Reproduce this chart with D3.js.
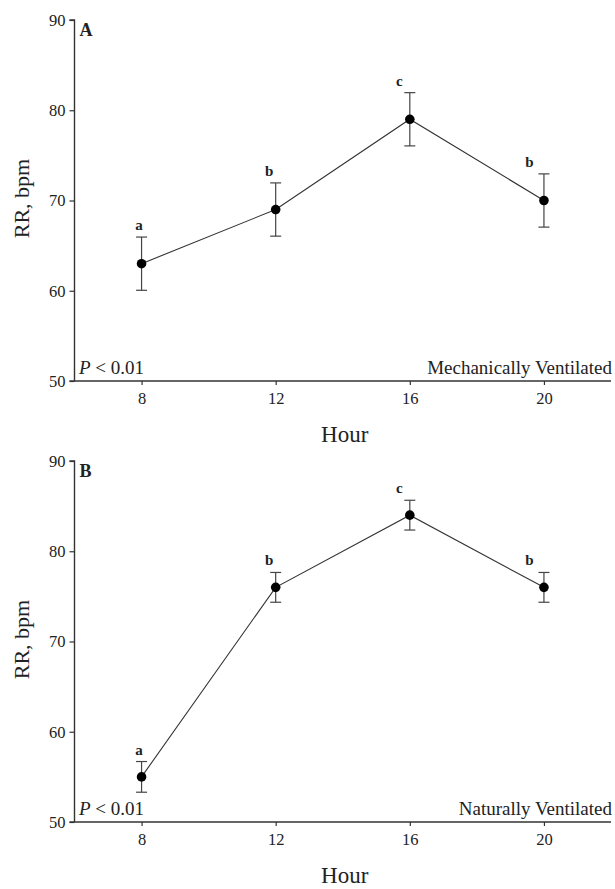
<!DOCTYPE html>
<html>
<head>
<meta charset="utf-8">
<script src="https://cdn.jsdelivr.net/npm/d3@7"></script>
<style>
  body { margin: 0; background: #fff; }
  svg { display: block; }
  text { font-family: "Liberation Serif", "Times New Roman", serif; fill: #222; }
</style>
</head>
<body>
<svg id="chart" width="615" height="889"></svg>
<script>
// ---- data ----
const hours = [8, 12, 16, 20];
const xTicks = [8, 12, 16, 20];
const yTicks = [50, 60, 70, 80, 90];

const mechMean = [63, 69, 79, 70];
const mechSE = [2.95, 2.95, 2.95, 2.95];
const mechLetters = ["a", "b", "c", "b"];

const natMean = [55, 76, 84, 76];
const natSE = [1.7, 1.65, 1.65, 1.65];
const natLetters = ["a", "b", "c", "b"];

const panels = [
  { tag: "A", label: "Mechanically Ventilated", mean: mechMean, se: mechSE, letters: mechLetters, top: 20, bottom: 381 },
  { tag: "B", label: "Naturally Ventilated", mean: natMean, se: natSE, letters: natLetters, top: 461, bottom: 822 }
];

const svg = d3.select("#chart");
const left = 74.5, right = 611;
const x = d3.scaleLinear().domain([6, 22]).range([left, right]);
// annotation letters sit slightly left of their points, increasingly so to the right
const xLetter = d3.scaleLinear().domain([8, 20]).range([x(8) - 2.5, x(20) - 14.5]);

panels.forEach(p => {
  const y = d3.scaleLinear().domain([50, 90]).range([p.bottom, p.top]);
  const g = svg.append("g");

  // y axis
  const ya = g.append("g").attr("transform", `translate(${left},0)`)
    .call(d3.axisLeft(y).tickValues(yTicks).tickSize(5).tickPadding(4).tickFormat(d3.format("d")));
  ya.select(".domain").attr("stroke", "#333").attr("stroke-width", 1.4).attr("d", `M-5,${y(90)}H0V${y(50)}`);
  ya.selectAll(".tick line").attr("stroke", "#333").attr("stroke-width", 1.2);
  ya.selectAll(".tick text").attr("font-size", 16.5).attr("font-family", "Liberation Serif").attr("fill", "#222");

  // x axis
  const xa = g.append("g").attr("transform", `translate(0,${p.bottom})`)
    .call(d3.axisBottom(x).tickValues(xTicks).tickSize(4).tickPadding(7).tickFormat(d3.format("d")));
  xa.select(".domain").attr("stroke", "#333").attr("stroke-width", 1.4).attr("d", `M${left - 5},0H${right}`);
  xa.selectAll(".tick line").attr("stroke", "#333").attr("stroke-width", 1.2);
  xa.selectAll(".tick text").attr("font-size", 16.5).attr("font-family", "Liberation Serif").attr("fill", "#222");

  // axis titles
  g.append("text").attr("x", (left + right) / 2 + 2).attr("y", p.bottom + 61)
    .attr("text-anchor", "middle").attr("font-size", 23).text("Hour");
  g.append("text").attr("transform", `translate(29,${(p.top + p.bottom) / 2 - 2}) rotate(-90)`)
    .attr("text-anchor", "middle").attr("font-size", 22).text("RR, bpm");

  // panel tag
  g.append("text").attr("x", left + 5).attr("y", p.top + 16)
    .attr("font-size", 18).attr("font-weight", "bold").text(p.tag);

  // P value
  const pt = g.append("text").attr("x", left + 4.5).attr("y", p.bottom - 7).attr("font-size", 19);
  pt.append("tspan").attr("font-style", "italic").text("P");
  pt.append("tspan").text(" < 0.01");

  // condition label
  g.append("text").attr("x", right + 1).attr("y", p.bottom - 7).attr("text-anchor", "end")
    .attr("font-size", 19).text(p.label);

  const pts = hours.map((h, i) => ({ h, m: p.mean[i], se: p.se[i], l: p.letters[i] }));

  // error bars
  const eb = g.append("g").attr("stroke", "#444").attr("stroke-width", 1.2).attr("fill", "none");
  pts.forEach(d => {
    const cx = x(d.h);
    eb.append("line").attr("x1", cx).attr("x2", cx).attr("y1", y(d.m - d.se)).attr("y2", y(d.m + d.se));
    eb.append("line").attr("x1", cx - 5.5).attr("x2", cx + 5.5).attr("y1", y(d.m + d.se)).attr("y2", y(d.m + d.se));
    eb.append("line").attr("x1", cx - 5.5).attr("x2", cx + 5.5).attr("y1", y(d.m - d.se)).attr("y2", y(d.m - d.se));
  });

  // line
  g.append("path").datum(pts)
    .attr("fill", "none").attr("stroke", "#333").attr("stroke-width", 1.1)
    .attr("d", d3.line().x(d => x(d.h)).y(d => y(d.m)));

  // points
  g.selectAll("circle.pt").data(pts).enter().append("circle")
    .attr("cx", d => x(d.h)).attr("cy", d => y(d.m)).attr("r", 4.8).attr("fill", "#000");

  // letters
  g.selectAll("text.let").data(pts).enter().append("text")
    .attr("x", d => xLetter(d.h)).attr("y", d => y(d.m + d.se) - 7)
    .attr("text-anchor", "middle").attr("font-size", 15).attr("font-weight", "bold").text(d => d.l);
});
</script>
</body>
</html>
